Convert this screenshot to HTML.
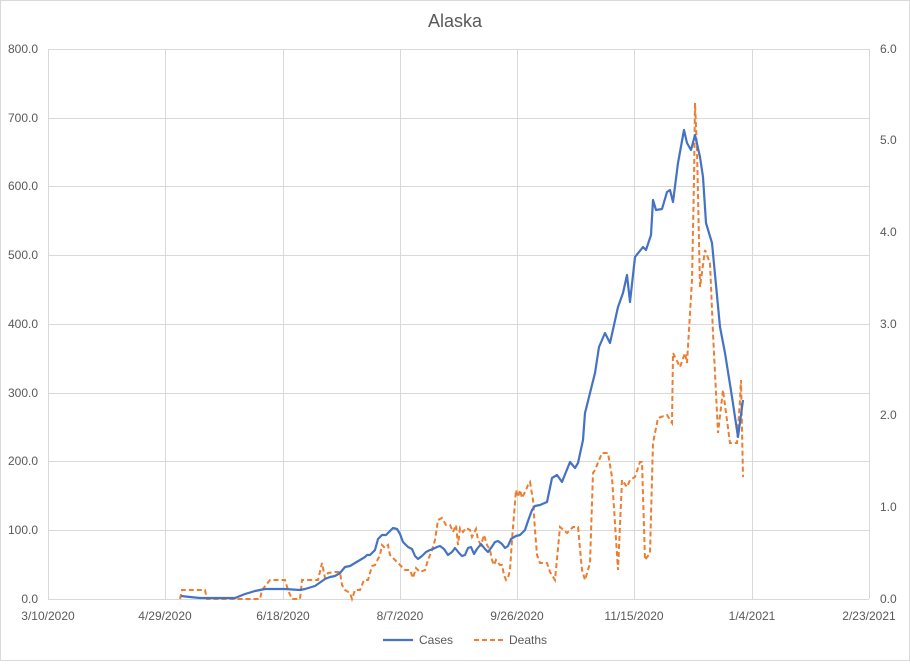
<!DOCTYPE html>
<html><head><meta charset="utf-8"><style>
body{margin:0;background:#fff;}
svg text{font-family:"Liberation Sans",sans-serif;fill:#595959;}
</style></head><body>
<svg width="910" height="661" viewBox="0 0 910 661" xmlns="http://www.w3.org/2000/svg">
<rect x="0.5" y="0.5" width="909" height="660" fill="#fff" stroke="#d9d9d9"/>
<text x="455" y="27" font-size="18" text-anchor="middle">Alaska</text>
<g stroke="#d9d9d9" stroke-width="1">
<line x1="48" y1="49.5" x2="869" y2="49.5"/><line x1="48" y1="118.5" x2="869" y2="118.5"/>
<line x1="48" y1="186.5" x2="869" y2="186.5"/><line x1="48" y1="255.5" x2="869" y2="255.5"/>
<line x1="48" y1="324.5" x2="869" y2="324.5"/><line x1="48" y1="393.5" x2="869" y2="393.5"/>
<line x1="48" y1="461.5" x2="869" y2="461.5"/><line x1="48" y1="530.5" x2="869" y2="530.5"/>
<line x1="48" y1="599.5" x2="869" y2="599.5"/>
<line x1="48.5" y1="49" x2="48.5" y2="599"/><line x1="165.5" y1="49" x2="165.5" y2="599"/>
<line x1="283.5" y1="49" x2="283.5" y2="599"/><line x1="400.5" y1="49" x2="400.5" y2="599"/>
<line x1="517.5" y1="49" x2="517.5" y2="599"/><line x1="634.5" y1="49" x2="634.5" y2="599"/>
<line x1="752.5" y1="49" x2="752.5" y2="599"/><line x1="869.5" y1="49" x2="869.5" y2="599"/>
</g>
<g font-size="12" text-anchor="end">
<text x="38" y="53">800.0</text><text x="38" y="122">700.0</text><text x="38" y="190">600.0</text>
<text x="38" y="259">500.0</text><text x="38" y="328">400.0</text><text x="38" y="397">300.0</text>
<text x="38" y="465">200.0</text><text x="38" y="534">100.0</text><text x="38" y="603">0.0</text>
</g>
<g font-size="12" text-anchor="start">
<text x="880" y="53">6.0</text><text x="880" y="144">5.0</text><text x="880" y="236">4.0</text>
<text x="880" y="328">3.0</text><text x="880" y="419">2.0</text><text x="880" y="511">1.0</text>
<text x="880" y="603">0.0</text>
</g>
<g font-size="12" text-anchor="middle">
<text x="48" y="620">3/10/2020</text><text x="165" y="620">4/29/2020</text><text x="283" y="620">6/18/2020</text>
<text x="400" y="620">8/7/2020</text><text x="517" y="620">9/26/2020</text><text x="634" y="620">11/15/2020</text>
<text x="752" y="620">1/4/2021</text><text x="869" y="620">2/23/2021</text>
</g>
<polyline fill="none" stroke="#ed7d31" stroke-width="2" stroke-dasharray="5,3" points="180,599 182,590 200,590 205,590 207,599 260,599 262,590 270,580 280,580 285,580 288,590 292,599 300,599 302,580 310,580 318,580 322,563 325,578 328,573 335,572 340,572 342,585 345,590 350,593 352,599 355,590 360,590 364,580 368,580 372,566 375,565 380,555 382,545 385,548 388,545 390,555 395,560 400,565 403,568 405,570 410,570 413,578 416,568 420,572 425,570 428,560 432,550 435,540 438,520 442,518 446,525 450,525 453,532 456,525 458,545 460,528 463,532 466,528 470,530 472,537 476,529 478,540 481,545 484,535 487,545 490,550 492,560 494,565 496,560 500,565 502,565 504,575 506,580 508,578 510,570 512,540 514,515 516,490 518,497 520,490 522,498 526,490 528,485 530,482 533,500 535,530 537,555 540,563 547,563 550,572 555,580 560,527 567,533 573,527 578,527 582,570 585,580 590,563 593,473 595,470 602,453 608,453 612,477 618,570 622,480 627,487 630,480 635,477 640,462 642,462 645,560 650,553 653,443 658,418 667,415 672,423 673,353 680,367 685,353 687,363 692,280 694,180 695,103 697,150 700,287 705,250 710,263 713,333 718,433 723,390 730,443 737,443 740,400 741,380 743,477"/>
<polyline fill="none" stroke="#4472c4" stroke-width="2.2" stroke-linejoin="round" points="181,596 190,597 200,598 235,598 245,594 255,591 265,589 275,589 285,589 300,590 305,589 315,586 325,579 330,577 335,576 340,573 345,567 350,566 355,563 360,560 365,557 367,555 370,555 375,550 378,539 382,535 386,535 390,531 393,528 397,529 400,534 403,542 408,547 412,549 415,556 418,559 422,556 426,552 430,550 433,549 437,547 440,546 444,549 448,555 452,552 455,548 459,553 462,556 465,555 468,548 471,547 474,554 477,549 481,544 485,549 488,552 491,548 495,542 498,541 502,544 505,548 508,546 511,539 516,536 520,535 525,530 528,521 532,510 535,506 540,505 547,502 552,478 557,475 562,482 570,462 575,468 578,463 583,440 585,413 590,393 595,373 599,347 605,333 610,343 618,307 623,293 627,275 630,302 635,257 643,247 646,250 651,235 653,200 656,210 662,209 667,192 670,190 673,202 678,163 684,130 687,143 691,150 695,135 700,157 703,177 706,223 712,243 720,327 725,353 732,397 738,437 743,400"/>
<line x1="383" y1="640" x2="413" y2="640" stroke="#4472c4" stroke-width="2.2"/>
<text x="419" y="644" font-size="12">Cases</text>
<line x1="474" y1="640" x2="504" y2="640" stroke="#ed7d31" stroke-width="2" stroke-dasharray="5,3"/>
<text x="509" y="644" font-size="12">Deaths</text>
</svg>
</body></html>
